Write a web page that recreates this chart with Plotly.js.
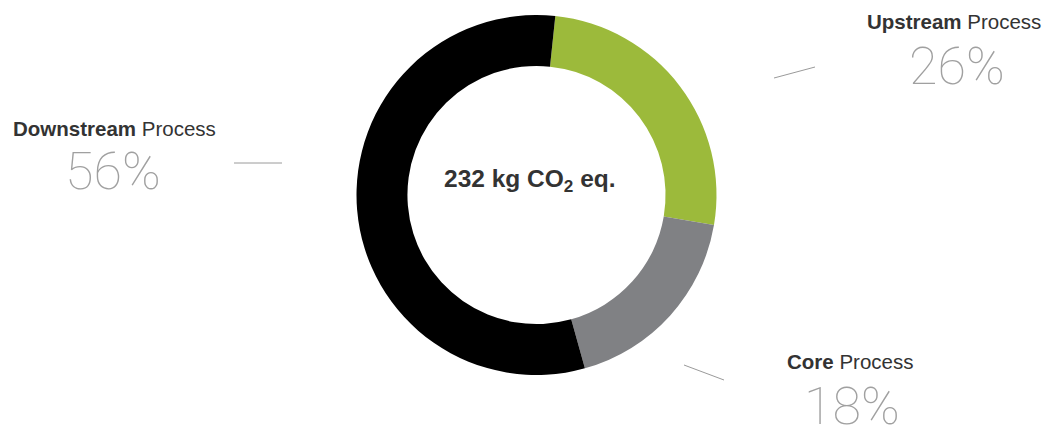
<!DOCTYPE html>
<html>
<head>
<meta charset="utf-8">
<script src="https://cdn.plot.ly/plotly-3.0.1.min.js"></script>
<style>html,body{margin:0;padding:0;background:#fff;}#chart{width:1046px;height:426px;}</style>
</head>
<body>
<div id="chart"></div>
<script>
var categories = ["Upstream", "Core", "Downstream"];
var suffix = ["Process", "Process", "Process"];
var values = [26, 18, 56];
var colors = ["#9cba3b", "#808184", "#000000"];
var centerText = "232 kg CO<sub>2</sub> eq.";

var W = 1046, H = 426;
function px(x) { return x / W; }
function py(y) { return 1 - y / H; }

var cx = 536.5, cy = 195, R = 180;

// label placement (pixels)
var place = [
  {lx: 1043, ly: 22, la: "right", pxx: 957, pyy: 67, line: [774, 78, 815, 67]},
  {lx: 850, ly: 361, la: "center", pxx: 852, pyy: 406, line: [684, 365, 724, 380]},
  {lx: 11, ly: 128, la: "left", pxx: 113, pyy: 171, line: [234, 163, 282, 163]}
];

var annotations = [];
var shapes = [];
for (var i = 0; i < categories.length; i++) {
  var p = place[i];
  annotations.push({
    xref: "paper", yref: "paper", x: px(p.lx), y: py(p.ly),
    xanchor: p.la, yanchor: "middle", showarrow: false,
    text: "<b>" + categories[i] + "</b> " + suffix[i],
    font: {family: "Liberation Sans, Arial, sans-serif", size: 20.5, color: "#333333"}
  });
  annotations.push({
    xref: "paper", yref: "paper", x: px(p.pxx), y: py(p.pyy),
    xanchor: "center", yanchor: "middle", showarrow: false,
    text: values[i] + "%",
    font: {family: "Roboto, Inter, sans-serif", size: 52, color: "#a0a0a0", weight: 100}
  });
  shapes.push({
    type: "line", xref: "paper", yref: "paper",
    x0: px(p.line[0]), y0: py(p.line[1]), x1: px(p.line[2]), y1: py(p.line[3]),
    line: {color: "#9a9a9a", width: 1}
  });
}
annotations.push({
  xref: "paper", yref: "paper", x: px(530), y: py(180),
  xanchor: "center", yanchor: "middle", showarrow: false,
  text: "<b>" + centerText + "</b>",
  font: {family: "Liberation Sans, Arial, sans-serif", size: 24.5, color: "#333333"}
});

var trace = {
  type: "pie",
  labels: categories,
  values: values,
  hole: 0.717,
  sort: false,
  direction: "clockwise",
  rotation: 6,
  textinfo: "none",
  hoverinfo: "label+percent",
  marker: {colors: colors, line: {width: 0}},
  domain: {x: [px(cx - R), px(cx + R)], y: [py(cy + R), py(cy - R)]},
  showlegend: false
};

Plotly.newPlot("chart", [trace], {
  width: W, height: H,
  margin: {l: 0, r: 0, t: 0, b: 0},
  paper_bgcolor: "#ffffff",
  plot_bgcolor: "#ffffff",
  showlegend: false,
  annotations: annotations,
  shapes: shapes
}, {displayModeBar: false, staticPlot: true});
</script>
</body>
</html>
